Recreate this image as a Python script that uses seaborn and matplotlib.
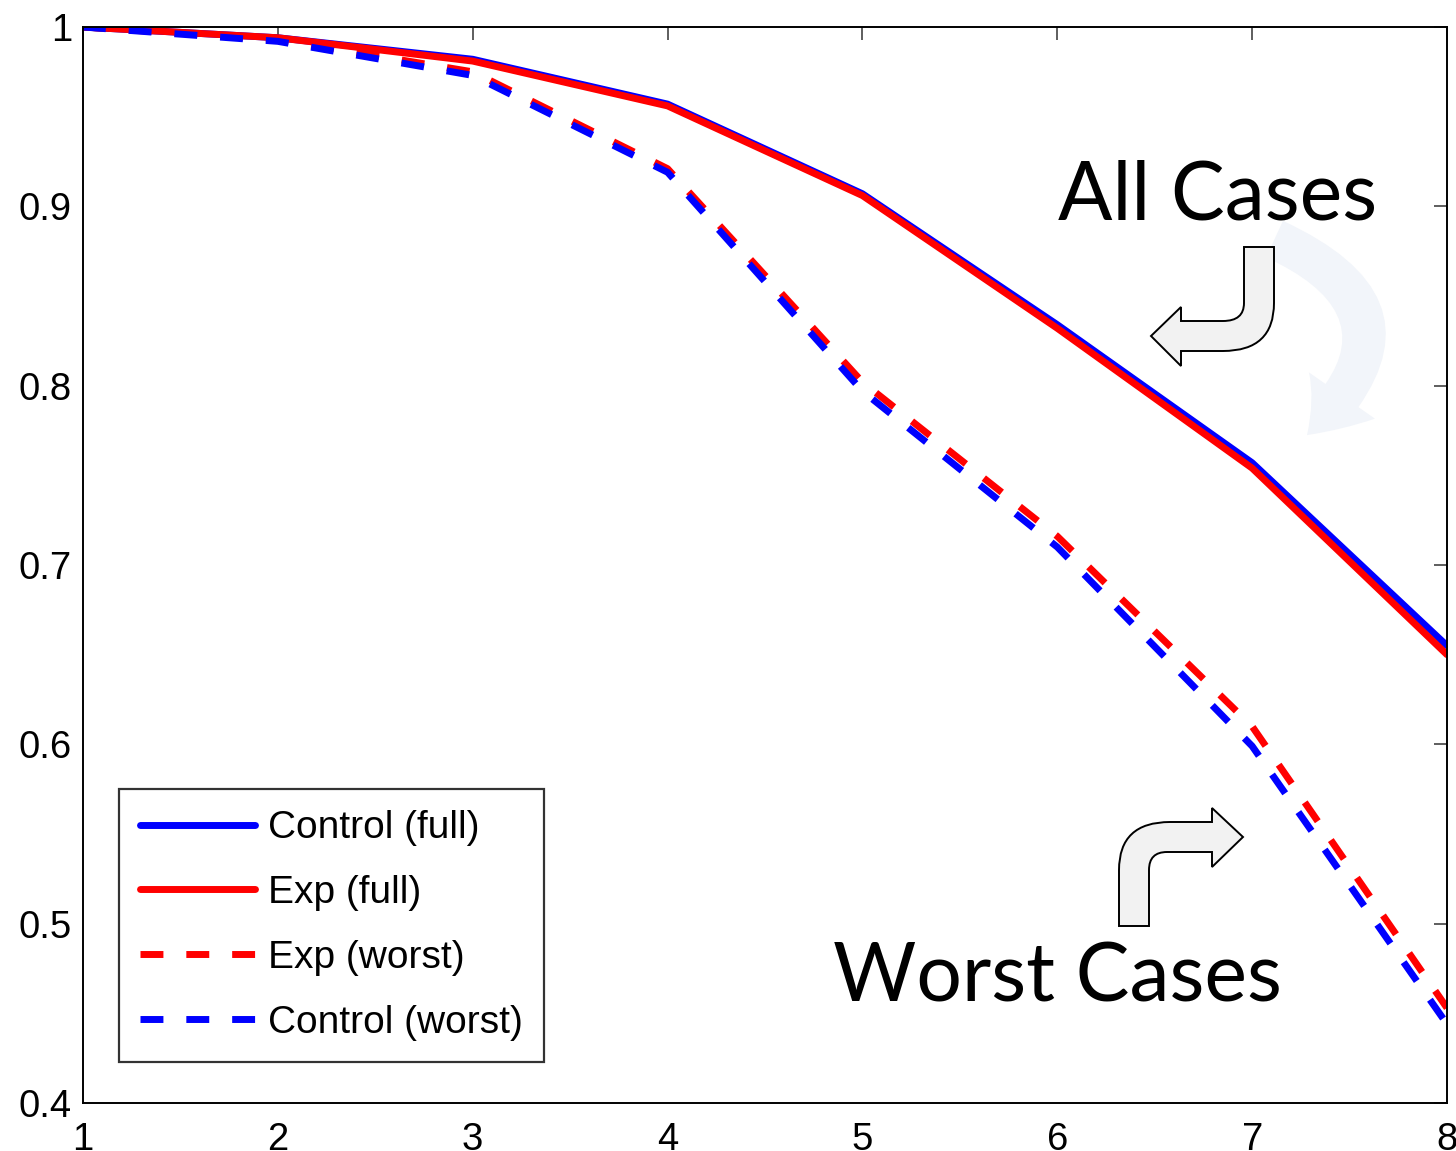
import numpy as np
import pandas as pd
import matplotlib
matplotlib.use("Agg")
import matplotlib.pyplot as plt
import seaborn as sns
from matplotlib.path import Path
from matplotlib.patches import PathPatch, FancyArrowPatch
from matplotlib.transforms import Affine2D

# ---- data ----
steps = [1, 2, 3, 4, 5, 6, 7, 8]
control_full = [1.0, 0.994, 0.982, 0.957, 0.907, 0.834, 0.757, 0.655]
exp_full = [1.0, 0.994, 0.981, 0.956, 0.906, 0.832, 0.754, 0.650]
exp_worst = [1.0, 0.993, 0.975, 0.921, 0.802, 0.716, 0.610, 0.453]
control_worst = [1.0, 0.992, 0.973, 0.919, 0.797, 0.710, 0.599, 0.444]
series_names = ["Control (full)", "Exp (full)", "Exp (worst)", "Control (worst)"]
y_ticks = [0.4, 0.5, 0.6, 0.7, 0.8, 0.9, 1.0]
y_tick_labels = ["0.4", "0.5", "0.6", "0.7", "0.8", "0.9", "1"]

sns.set_style("white")
plt.rcParams["font.family"] = ["Liberation Sans", "DejaVu Sans"]
plt.rcParams["text.color"] = "black"
plt.rcParams["xtick.color"] = "black"
plt.rcParams["ytick.color"] = "black"

W, H = 1456, 1151
fig = plt.figure(figsize=(W / 100, H / 100), dpi=100)
ax = fig.add_axes([83 / W, 1 - 1103 / H, 1364 / W, 1076 / H])

styles = {
    "Control (full)": ("#0000ff", "-"),
    "Exp (full)": ("#ff0000", "-"),
    "Exp (worst)": ("#ff0000", "--"),
    "Control (worst)": ("#0000ff", "--"),
}
values = {
    "Control (full)": control_full,
    "Exp (full)": exp_full,
    "Exp (worst)": exp_worst,
    "Control (worst)": control_worst,
}
for name in series_names:
    c, ls = styles[name]
    df = pd.DataFrame({"x": steps, "y": values[name]})
    sns.lineplot(data=df, x="x", y="y", ax=ax, color=c, linewidth=5, label=name)
    if ls == "--":
        ax.lines[-1].set_dashes((3.3, 3.3))

ax.set_xlim(1, 8)
ax.set_ylim(0.4, 1.0)
ax.set_xticks(steps)
ax.set_xticklabels([str(s) for s in steps])
ax.set_yticks(y_ticks)
ax.set_yticklabels(y_tick_labels)
ax.set_xlabel("")
ax.set_ylabel("")
ax.tick_params(direction="in", length=9.5, width=1.1, color="#333333",
               top=True, right=True, labelsize=27.5, labelcolor="black")
ax.tick_params(axis="x", pad=14)
ax.tick_params(axis="y", pad=8)
for sp in ax.spines.values():
    sp.set_visible(True)
    sp.set_color("black")
    sp.set_linewidth(1.4)

leg = ax.legend(loc="lower left", bbox_to_anchor=(36 / 1364, 41 / 1076),
                borderaxespad=0, fontsize=28, frameon=True, fancybox=False,
                edgecolor="black", handlelength=2.95, handletextpad=0.33,
                labelspacing=0.74, borderpad=0.55, labelcolor="black")
leg.get_frame().set_linewidth(1.6)
for lh in leg.get_lines():
    lh.set_linewidth(5)

# pixel (image coords, y down) -> figure
pix = Affine2D().scale(1 / W, -1 / H).translate(0, 1) + fig.transFigure

# faint curved arrow in background
faint = FancyArrowPatch((1272, 238), (1305, 437), transform=pix,
                        connectionstyle="arc3,rad=-0.75",
                        arrowstyle="simple,head_length=3.8,head_width=5.8,tail_width=2.9",
                        mutation_scale=10, color="#f2f5fa", lw=0, zorder=0.5)
fig.patches.append(faint)

# bent arrows
M, L, C3, CL = Path.MOVETO, Path.LINETO, Path.CURVE3, Path.CLOSEPOLY
a1_verts = [(1244, 247), (1274, 247), (1274, 303), (1274, 351), (1223, 351),
            (1181, 351), (1181, 366), (1151, 336), (1181, 307), (1181, 321),
            (1223, 321), (1244, 321), (1244, 303), (1244, 247)]
a1_codes = [M, L, L, C3, C3, L, L, L, L, L, L, C3, C3, CL]
a2_verts = [(1119, 926), (1119, 870), (1119, 822), (1170, 822), (1212, 822),
            (1212, 808), (1243, 837), (1212, 867), (1212, 852), (1167, 852),
            (1149, 852), (1149, 870), (1149, 926), (1119, 926)]
a2_codes = [M, L, C3, C3, L, L, L, L, L, L, C3, C3, L, CL]
for verts, codes in [(a1_verts, a1_codes), (a2_verts, a2_codes)]:
    p = PathPatch(Path(verts, codes), transform=pix, facecolor="#f2f2f2",
                  edgecolor="black", lw=1.4, zorder=5)
    fig.patches.append(p)

fig.text(1058 / W, 1 - 220 / H, "All Cases", family=["Lato", "DejaVu Sans"],
         fontsize=58, ha="left", va="baseline")
fig.text(833 / W, 1 - 1002 / H, "Worst Cases", family=["Lato", "DejaVu Sans"],
         fontsize=58, ha="left", va="baseline")

fig.savefig("out.png", dpi=100)
